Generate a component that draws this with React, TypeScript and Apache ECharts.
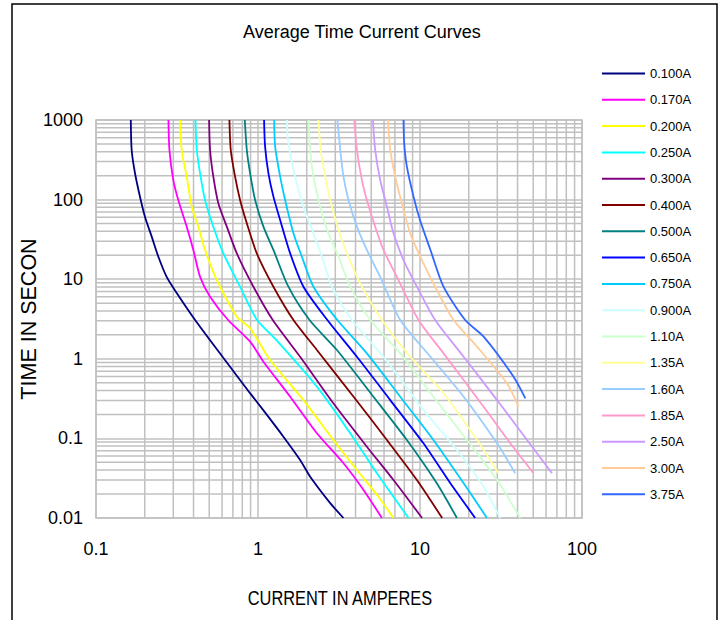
import React, { useEffect, useRef } from "react";
import * as echarts from "echarts";

const seriesNames = ["0.100A", "0.170A", "0.200A", "0.250A", "0.300A", "0.400A", "0.500A", "0.650A", "0.750A", "0.900A", "1.10A", "1.35A", "1.60A", "1.85A", "2.50A", "3.00A", "3.75A"];
const seriesColors = ["#000080", "#FF00FF", "#FFFF00", "#00FFFF", "#800080", "#800000", "#008080", "#0000FF", "#00CCFF", "#CCFFFF", "#CCFFCC", "#FFFF99", "#99CCFF", "#FF99CC", "#CC99FF", "#FFCC99", "#3366FF"];

const xTickLabels = ["0.1", "1", "10", "100"];
const yTickLabels = ["0.01", "0.1", "1", "10", "100", "1000"];
const minorCurrents = [0.2, 0.3, 0.4, 0.5, 0.6, 0.7, 0.8, 0.9, 2, 3, 4, 5, 6, 7, 8, 9, 20, 30, 40, 50, 60, 70, 80, 90];
const minorTimes = [0.02, 0.03, 0.04, 0.05, 0.06, 0.07, 0.08, 0.09, 0.2, 0.3, 0.4, 0.5, 0.6, 0.7, 0.8, 0.9, 2, 3, 4, 5, 6, 7, 8, 9, 20, 30, 40, 50, 60, 70, 80, 90, 200, 300, 400, 500, 600, 700, 800, 900];

// current (A) / time (s) pairs for each curve
const amps010 = [0.164, 0.166, 0.174, 0.187, 0.201, 0.221, 0.243, 0.273, 0.315, 0.409, 0.617, 0.893, 1.075, 1.435, 1.82, 2.1, 2.79, 3.37];
const secs010 = [1000, 420, 216, 108, 60, 34, 19, 10.7, 6.7, 3.07, 1.0, 0.37, 0.228, 0.105, 0.0535, 0.033, 0.0154, 0.01];
const amps017 = [0.28, 0.284, 0.3, 0.322, 0.363, 0.399, 0.439, 0.506, 0.654, 0.894, 1.08, 1.58, 2.31, 3.37, 4.48, 5.82];
const secs017 = [1000, 420, 176, 98.9, 45.7, 23.3, 10.7, 6.03, 3.07, 1.64, 0.92, 0.334, 0.116, 0.0487, 0.0225, 0.01];
const amps020 = [0.33, 0.338, 0.363, 0.39, 0.428, 0.471, 0.557, 0.74, 0.894, 1.188, 1.908, 2.92, 4.08, 5.54, 6.86];
const secs020 = [1000, 420, 194, 81.4, 45.7, 23.3, 9.77, 3.38, 2.42, 0.966, 0.303, 0.0955, 0.0401, 0.0185, 0.01];
const amps025 = [0.411, 0.419, 0.439, 0.471, 0.53, 0.611, 0.775, 0.987, 1.3, 2.31, 3.71, 5.42, 8.5];
const secs025 = [1000, 420, 214, 98.9, 45.7, 21.1, 8.05, 3.07, 1.72, 0.447, 0.116, 0.0365, 0.01];
const amps030 = [0.499, 0.506, 0.53, 0.569, 0.642, 0.74, 0.937, 1.234, 1.82, 2.92, 4.7, 6.86, 10.3];
const secs030 = [1000, 420, 194, 89.9, 45.7, 21.1, 8.05, 3.07, 1.06, 0.276, 0.0787, 0.03, 0.01];
const amps040 = [0.666, 0.679, 0.722, 0.775, 0.853, 0.983, 1.245, 1.655, 2.31, 3.89, 6.25, 9.57, 13.7];
const secs040 = [1000, 420, 194, 98.9, 50.4, 21.1, 8.05, 3.07, 1.29, 0.334, 0.0955, 0.03, 0.01];
const amps050 = [0.829, 0.853, 0.894, 0.96, 1.08, 1.245, 1.54, 2.08, 3.07, 5.16, 8.3, 12.7, 16.9];
const secs050 = [1000, 420, 214, 98.9, 45.7, 23.3, 8.05, 3.07, 1.29, 0.334, 0.0955, 0.0273, 0.01];
const amps065 = [1.09, 1.106, 1.16, 1.245, 1.37, 1.58, 1.908, 2.68, 4.08, 6.55, 10.5, 15.4, 21.9];
const secs065 = [1000, 462, 214, 109, 55.4, 21.1, 8.05, 3.07, 1.06, 0.303, 0.0867, 0.0273, 0.01];
const amps075 = [1.258, 1.276, 1.37, 1.47, 1.655, 1.865, 2.2, 3.09, 4.7, 7.55, 12.1, 18.6, 25.9];
const secs075 = [1000, 462, 194, 98.9, 37.7, 19.2, 8.05, 3.07, 1.17, 0.334, 0.0955, 0.0273, 0.01];
const amps090 = [1.507, 1.54, 1.695, 1.908, 2.2, 2.48, 2.86, 3.8, 5.95, 10.5, 16.9, 24.7, 31.3];
const secs090 = [1000, 509, 194, 81.4, 37.7, 19.2, 8.05, 3.07, 1.06, 0.228, 0.0715, 0.0247, 0.01];
const amps110 = [2.05, 2.1, 2.2, 2.42, 2.72, 3.14, 3.71, 4.93, 7.55, 12.1, 19.5, 29.9, 41.6];
const secs110 = [1000, 420, 194, 81.4, 37.7, 19.2, 8.05, 3.07, 1.17, 0.334, 0.0955, 0.03, 0.01];
const amps135 = [2.36, 2.44, 2.6, 2.79, 3.14, 3.54, 4.27, 5.82, 8.7, 13.97, 22.5, 30.5];
const secs135 = [1000, 420, 194, 98.9, 41.5, 21.1, 8.87, 3.07, 1.06, 0.369, 0.0955, 0.0365];
const amps160 = [3.09, 3.22, 3.37, 3.62, 4.08, 4.7, 5.68, 7.55, 11.6, 18.6, 29.9, 38.7];
const secs160 = [1000, 420, 194, 98.9, 45.7, 23.3, 10.7, 3.07, 1.06, 0.334, 0.0867, 0.0365];
const amps185 = [3.93, 4.08, 4.38, 4.7, 5.29, 5.95, 7.2, 9.79, 13.97, 24.7, 36.1, 50.2];
const secs185 = [1000, 420, 176, 98.9, 45.7, 23.3, 10.7, 3.07, 1.17, 0.25, 0.0867, 0.0365];
const amps250 = [5.12, 5.29, 5.68, 6.25, 6.86, 7.91, 9.57, 12.4, 18.6, 29.9, 45.8, 65.3];
const secs250 = [1000, 420, 176, 81.4, 37.7, 17.4, 8.05, 3.07, 1.06, 0.303, 0.0955, 0.0365];
const amps300 = [6.34, 6.55, 7.03, 7.73, 8.7, 10.5, 12.7, 16.1, 22.5, 34.4, 40.6];
const secs300 = [1000, 420, 194, 89.9, 37.7, 15.8, 7.31, 3.07, 1.42, 0.492, 0.25];
const amps375 = [7.91, 7.99, 8.3, 9.12, 10.0, 11.6, 13.97, 19.0, 24.7, 37.8, 44.7];
const secs375 = [1000, 509, 259, 109, 55.4, 23.3, 8.05, 3.07, 1.9, 0.596, 0.319];

const curveCurrents = [amps010, amps017, amps020, amps025, amps030, amps040, amps050, amps065, amps075, amps090, amps110, amps135, amps160, amps185, amps250, amps300, amps375];
const curveTimes = [secs010, secs017, secs020, secs025, secs030, secs040, secs050, secs065, secs075, secs090, secs110, secs135, secs160, secs185, secs250, secs300, secs375];

const FONT = "'Liberation Sans', Arial, sans-serif";
const GRID_COLOR = "#c0c0c0";

function fmtTick(v: number, labels: string[]): string {
  const s = String(Number(v.toPrecision(6)));
  return labels.includes(s) ? s : "";
}

export default function App() {
  const ref = useRef<HTMLDivElement>(null);

  useEffect(() => {
    if (!ref.current) return;
    const chart = echarts.init(ref.current, null, { renderer: "svg" });

    const lineSeries: any[] = seriesNames.map((name, k) => ({
      name,
      type: "line",
      data: curveCurrents[k].map((c, i) => [c, curveTimes[k][i]]),
      symbol: "none",
      smooth: 0.25,
      z: 3,
      silent: true,
      lineStyle: { color: seriesColors[k], width: 1.8 },
      itemStyle: { color: seriesColors[k] },
    }));

    const vGrid = {
      type: "custom",
      name: "minorX",
      silent: true,
      z: 1,
      data: minorCurrents.map((v) => [v, 1]),
      renderItem: (_p: any, api: any) => {
        const v = api.value(0);
        const a = api.coord([v, 1000]);
        const b = api.coord([v, 0.01]);
        return { type: "line", shape: { x1: a[0], y1: a[1], x2: b[0], y2: b[1] }, style: { stroke: GRID_COLOR, lineWidth: 1.5 } };
      },
    };
    const hGrid = {
      type: "custom",
      name: "minorY",
      silent: true,
      z: 1,
      data: minorTimes.map((v) => [1, v]),
      renderItem: (_p: any, api: any) => {
        const v = api.value(1);
        const a = api.coord([0.1, v]);
        const b = api.coord([100, v]);
        return { type: "line", shape: { x1: a[0], y1: a[1], x2: b[0], y2: b[1] }, style: { stroke: GRID_COLOR, lineWidth: 1.5 } };
      },
    };

    chart.setOption({
      animation: false,
      backgroundColor: "#ffffff",
      title: {
        text: "Average Time Current Curves",
        left: 243,
        top: 23,
        padding: 0,
        textStyle: { fontFamily: FONT, fontSize: 18, fontWeight: "normal", color: "#000" },
      },
      legend: {
        data: seriesNames,
        orient: "vertical",
        left: 601,
        top: 67,
        padding: 0,
        itemWidth: 43,
        itemHeight: 14,
        itemGap: 13.3,
        selectedMode: false,
        itemStyle: { opacity: 0 },
        textStyle: { fontFamily: FONT, fontSize: 13, color: "#000" },
      },
      grid: {
        left: 96,
        top: 120,
        width: 486,
        height: 398,
        show: true,
        borderColor: GRID_COLOR,
        borderWidth: 1.5,
      },
      xAxis: {
        type: "log",
        logBase: 10,
        min: 0.1,
        max: 100,
        axisLine: { show: false },
        axisTick: { show: false },
        splitLine: { show: true, lineStyle: { color: GRID_COLOR, width: 1.5 } },
        axisLabel: { fontFamily: FONT, fontSize: 18, color: "#000", margin: 22, formatter: (v: number) => fmtTick(v, xTickLabels) },
      },
      yAxis: {
        type: "log",
        logBase: 10,
        min: 0.01,
        max: 1000,
        axisLine: { show: false },
        axisTick: { show: false },
        splitLine: { show: true, lineStyle: { color: GRID_COLOR, width: 1.5 } },
        axisLabel: { fontFamily: FONT, fontSize: 18, color: "#000", margin: 13, formatter: (v: number) => fmtTick(v, yTickLabels) },
      },
      graphic: [
        {
          type: "polyline",
          silent: true,
          shape: { points: [[12, 620], [12, 4], [717, 4], [717, 620]] },
          style: { stroke: "#000", lineWidth: 1.5, fill: "none" },
        },
        {
          type: "text",
          silent: true,
          x: 29,
          y: 319,
          rotation: Math.PI / 2,
          style: { text: "TIME IN SECON", fontFamily: FONT, fontSize: 21.5, fill: "#000", align: "center", verticalAlign: "middle" },
        },
        {
          type: "text",
          silent: true,
          x: 340,
          y: 598,
          scaleX: 0.78,
          scaleY: 1,
          style: { text: "CURRENT IN AMPERES", fontFamily: FONT, fontSize: 21, fill: "#000", align: "center", verticalAlign: "middle" },
        },
      ],
      series: [vGrid, hGrid, ...lineSeries],
    });

    return () => chart.dispose();
  }, []);

  return <div ref={ref} style={{ position: "fixed", left: 0, top: 0, width: 722, height: 620 }} />;
}
